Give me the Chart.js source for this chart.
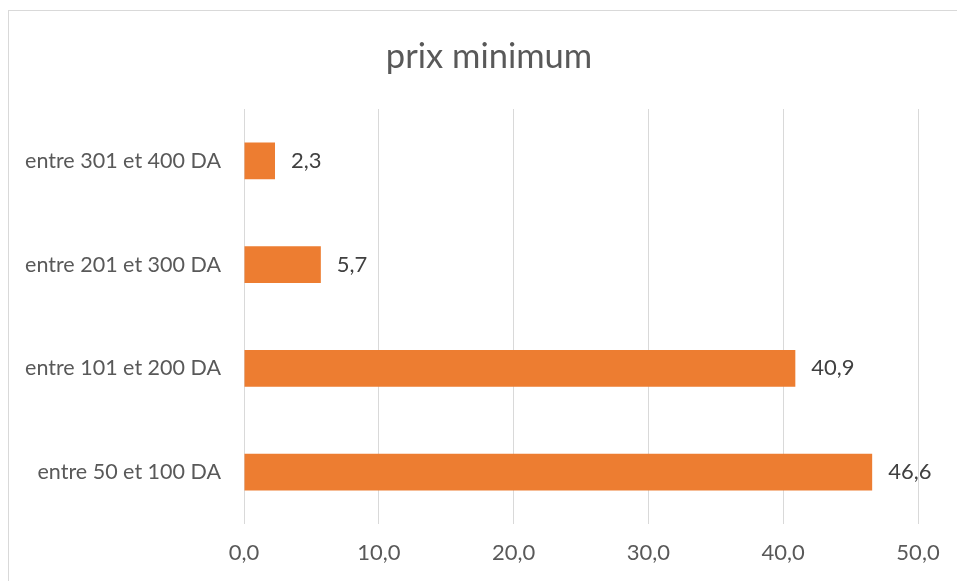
<!DOCTYPE html>
<html>
<head>
<meta charset="utf-8">
<script src="https://cdn.jsdelivr.net/npm/chart.js@4/dist/chart.umd.min.js"></script>
<style>
  html, body { margin: 0; padding: 0; background: #ffffff; overflow: hidden; }
  #wrap { position: relative; width: 957px; height: 581px; }
  #frame { position: absolute; left: 8px; top: 10px; width: 1000px; height: 1000px; border: 1px solid #d9d9d9; box-sizing: border-box; }
  #c { position: absolute; left: 0; top: 0; }
</style>
</head>
<body>
<div id="wrap">
  <div id="frame"></div>
  <canvas id="c" width="957" height="581"></canvas>
</div>
<script>
const chartTitle = 'prix minimum';
const categories = ['entre 301 et 400 DA', 'entre 201 et 300 DA', 'entre 101 et 200 DA', 'entre 50 et 100 DA'];
const values = [2.3, 5.7, 40.9, 46.6];
const axisMin = 0;
const axisMax = 50;
const axisStep = 10;

const FONT = "Lato, 'Open Sans', sans-serif";
const fmt = v => Number(v).toFixed(1).replace('.', ',');

// Title centred on the chart frame (which starts at x=8), not on the plot area
const frameTitle = {
  id: 'frameTitle',
  afterDraw(chart) {
    const ctx = chart.ctx;
    ctx.save();
    ctx.font = '34.5px ' + FONT;
    ctx.fillStyle = '#595959';
    ctx.textAlign = 'center';
    ctx.textBaseline = 'middle';
    ctx.fillText(chartTitle, 489, 57);
    ctx.restore();
  }
};

const dataLabels = {
  id: 'dataLabels',
  afterDatasetsDraw(chart) {
    const ctx = chart.ctx;
    const meta = chart.getDatasetMeta(0);
    ctx.save();
    ctx.font = '22px ' + FONT;
    ctx.fillStyle = '#404040';
    ctx.textAlign = 'left';
    ctx.textBaseline = 'middle';
    meta.data.forEach((el, i) => {
      ctx.fillText(fmt(chart.data.datasets[0].data[i]), el.x + 16, el.y);
    });
    ctx.restore();
  }
};

new Chart(document.getElementById('c'), {
  type: 'bar',
  data: {
    labels: categories,
    datasets: [{
      data: values,
      backgroundColor: '#ED7D31',
      borderWidth: 0,
      barPercentage: 0.353,
      categoryPercentage: 1.0
    }]
  },
  options: {
    indexAxis: 'y',
    responsive: false,
    animation: false,
    devicePixelRatio: 1,
    layout: { padding: { top: 109, right: 39, bottom: 0, left: 0 } },
    plugins: {
      legend: { display: false },
      tooltip: { enabled: false },
      title: { display: false }
    },
    scales: {
      x: {
        min: axisMin,
        max: axisMax,
        ticks: {
          stepSize: axisStep,
          color: '#595959',
          font: { family: FONT, size: 22 },
          padding: 16,
          callback: v => fmt(v)
        },
        grid: { color: '#d9d9d9', lineWidth: 1, drawTicks: false },
        border: { display: false },
        afterFit: s => { s.height = 57; }
      },
      y: {
        ticks: {
          color: '#595959',
          font: { family: FONT, size: 21.5 },
          padding: 23
        },
        grid: { display: false, drawTicks: false },
        border: { display: false },
        afterFit: s => { s.width = 244; }
      }
    }
  },
  plugins: [frameTitle, dataLabels]
});
</script>
</body>
</html>
